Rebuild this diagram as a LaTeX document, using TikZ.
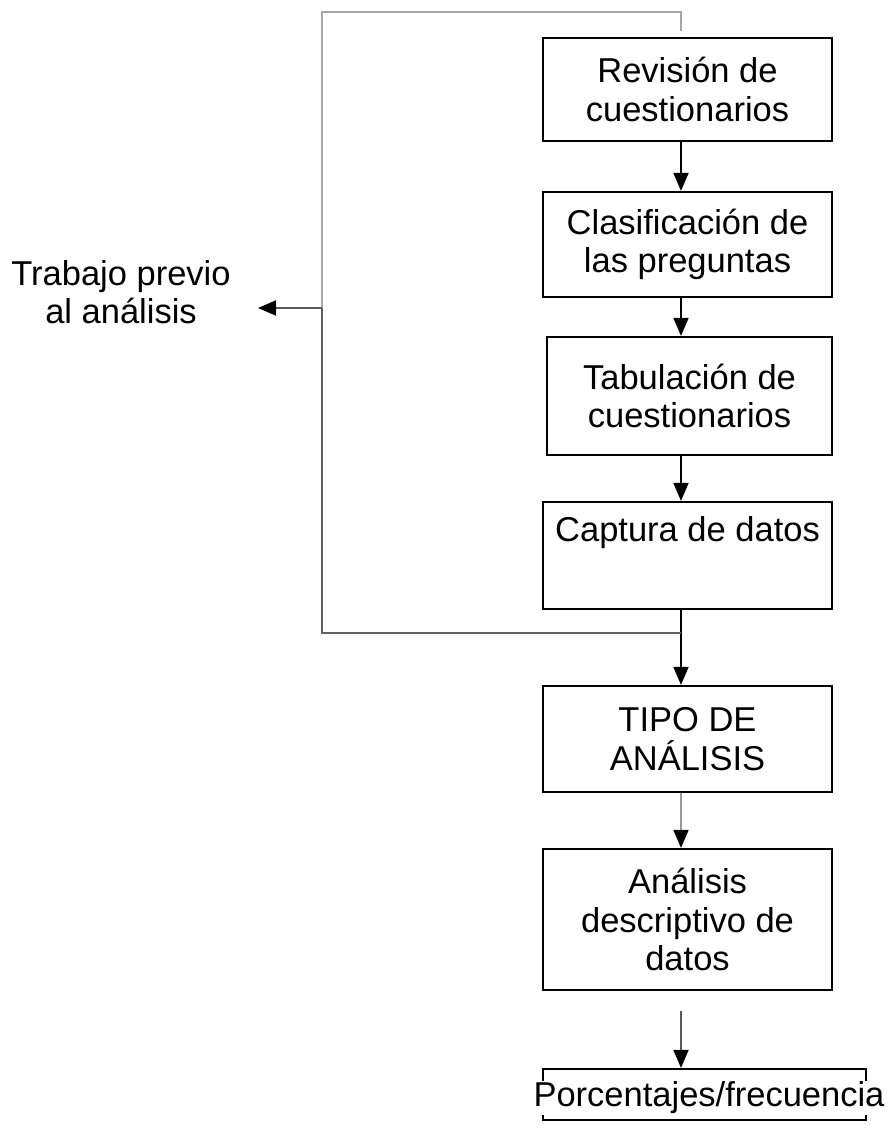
\documentclass[tikz,border=0pt]{standalone}
\usepackage{fontspec}
\setmainfont{Liberation Sans}
\usetikzlibrary{arrows.meta}
\begin{document}
\begin{tikzpicture}[x=1pt,y=-1pt,
  box/.style={draw=black,line width=2.2pt,minimum width=289pt,inner sep=0pt,align=center,font=\fontsize{34.5}{38.5}\selectfont},
  txt/.style={inner sep=0pt,align=center,font=\fontsize{34.5}{38.5}\selectfont},
  arr/.style={line width=1.8pt,-{Triangle[length=18pt,width=15pt,color=black]}},
  brk/.style={draw=gray!75!black,line width=2.4pt}]
\useasboundingbox (0,0) rectangle (890,1128);
\coordinate (ax) at (681,0);
\node[box,minimum height=103pt] (b1) at (687.5,89.5) {Revisión de\\cuestionarios};
\node[box,minimum height=105pt] (b2) at (687.5,244.5) {Clasificación de\\las preguntas};
\node[box,minimum width=285pt,minimum height=118pt] (b3) at (689.5,396) {Tabulación de\\cuestionarios};
\node[box,minimum height=107pt] (b4) at (687.5,555.5) {};
\node[txt] (t4) at (687.5,533) {Captura de datos};
\node[box,minimum height=106pt] (b5) at (687.5,739) {TIPO DE\\ANÁLISIS};
\node[box,minimum height=141pt] (b6) at (687.5,919.5) {Análisis\\descriptivo de\\datos};
\node[box,minimum width=323pt,minimum height=51pt] (b7) at (704.5,1094.5) {};
\node[txt,fill=white,minimum height=34pt] (t7) at (709,1098) {Porcentajes/frecuencia};
\node[txt] (lab) at (121,292) {Trabajo previo\\al análisis};
% main arrows
\draw[arr] (b1.south -| ax) -- (b2.north -| ax);
\draw[arr] (b2.south -| ax) -- (b3.north -| ax);
\draw[arr] (b3.south -| ax) -- (b4.north -| ax);
\draw[arr] (b4.south -| ax) -- (b5.north -| ax);
\draw[arr,gray!80] (b5.south -| ax) -- (b6.north -| ax);
\draw[arr,gray!70!black,shorten <=20pt] (b6.south -| ax) -- (b7.north -| ax);
% bracket
\coordinate (tl) at (322,12);
\coordinate (tr) at (681,12);
\coordinate (tre) at (681,31);
\coordinate (bl) at (322,633);
\coordinate (br) at (681,633);
\coordinate (mid) at (322,308);
\coordinate (la) at (258,308);
\draw[brk,gray!70] (tre) -- (tr) -- (tl) -- (mid);
\draw[brk] (mid) -- (bl) -- (br);
\draw[arr,gray!70!black] (mid) -- (la);
\end{tikzpicture}
\end{document}
